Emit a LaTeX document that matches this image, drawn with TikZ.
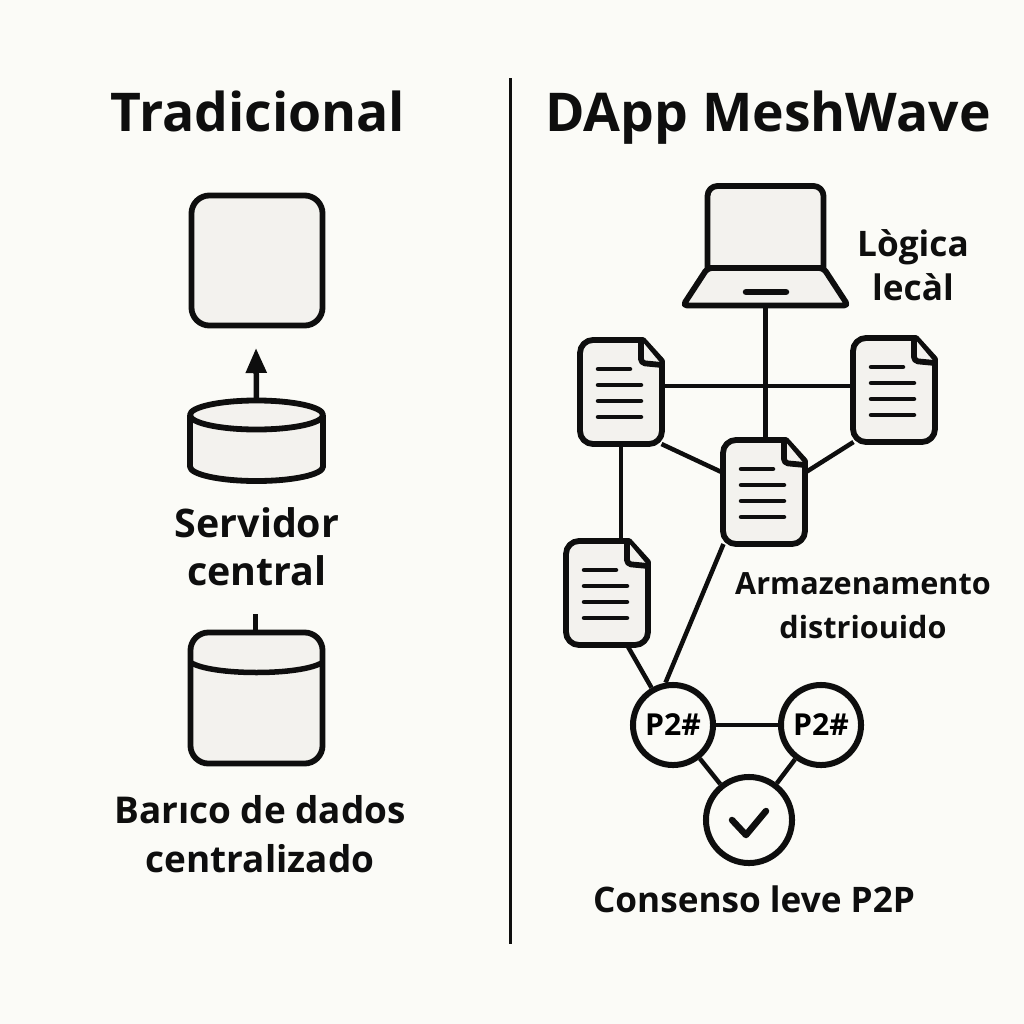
\documentclass[tikz,border=0pt]{standalone}
\usepackage{fontspec}
\setmainfont{Open Sans}
\usepackage{tikz}
\usetikzlibrary{arrows.meta}
\definecolor{paperbg}{HTML}{FBFBF7}
\definecolor{iconfill}{HTML}{F3F2EE}
\definecolor{inkline}{HTML}{0E0E0E}
\tikzset{
  iconline/.style  = {draw=inkline, line width=0.058cm, fill=iconfill, line join=round},
  linkline/.style  = {draw=inkline, line width=0.045cm},
  docline/.style   = {draw=inkline, line width=0.045cm, line cap=round},
  docspot/.style   = {minimum width=0.81cm, minimum height=1.04cm, inner sep=0pt, outer sep=0pt},
  peernode/.style  = {circle, draw=inkline, line width=0.06cm, fill=paperbg, inner sep=0pt,
                      minimum size=0.80cm, font=\fontsize{8.6}{11}\selectfont\bfseries},
  uparrow/.style   = {-{Triangle[length=0.25cm,width=0.2cm]}, draw=inkline, line width=0.055cm},
  titletext/.style = {font=\fontsize{15.2}{20}\selectfont\bfseries, text=inkline, anchor=base},
  labeltext/.style = {font=\fontsize{10.2}{13.6}\selectfont\bfseries, text=inkline, align=center},
  smalltext/.style = {font=\fontsize{8.7}{12.6}\selectfont\bfseries, text=inkline, align=center}
}
\begin{document}
\begin{tikzpicture}[x=0.01cm,y=-0.01cm]
  \fill[paperbg] (0,0) rectangle (1024,1024);
  \useasboundingbox (0,0) rectangle (1024,1024);

  % divider
  \coordinate (dividertop) at (510,78);
  \coordinate (dividerend) at (510,944);
  \draw[inkline, line width=0.03cm] (dividertop) -- (dividerend);

  % titles
  \node[titletext] (tradtitle) at (258,131) {Tradicional};
  \node[titletext] (dapptitle) at (768,131) {DApp MeshWave};

  % left column
  \node[iconline, rounded corners=0.18cm, minimum width=1.31cm, minimum height=1.30cm] (appbox) at (257,260.5) {};
  \coordinate (arrowtip) at (256,348);
  \node[minimum width=1.33cm, minimum height=0.81cm, inner sep=0pt, outer sep=0pt] (server) at (256.5,440.5) {};
  \draw[uparrow] (server.north) -- (arrowtip);
  \draw[iconline] (190,415) -- (190,466.5) arc[start angle=180, end angle=360, x radius=0.665cm, y radius=0.145cm] -- (323,415);
  \draw[iconline] (256.5,415) ellipse[x radius=0.665cm, y radius=0.145cm];
  \node[labeltext, font=\fontsize{11.2}{13.6}\selectfont\bfseries] (serverlabel) at (257,547) {Servidor\\central};

  \coordinate (stub) at (255,614);
  \node[iconline, rounded corners=0.18cm, minimum width=1.32cm, minimum height=1.31cm] (bank) at (256.5,698) {};
  \draw[linkline, line width=0.05cm] (stub) -- (stub |- bank.north);
  \draw[inkline, line width=0.055cm] (190,662) .. controls (210,676) and (303,676) .. (323,662);
  \node[labeltext, font=\fontsize{10.5}{13.9}\selectfont\bfseries] (banklabel) at (260,834) {Barıco de dados\\centralizado};

  % laptop
  \node[minimum width=1.67cm, minimum height=0.38cm, inner sep=0pt, outer sep=0pt] (lapbase) at (765.5,287) {};
  \draw[iconline] (707.5,268) -- (707.5,196) arc[start angle=180, end angle=90, radius=0.1cm] -- (813.5,186) arc[start angle=90, end angle=0, radius=0.1cm] -- (823.5,268) -- cycle;
  \draw[iconline, rounded corners=0.04cm] (707.5,268) -- (823.5,268) -- (848,305.5) -- (683,305.5) -- cycle;
  \draw[inkline, line width=0.065cm, line cap=round] (746,292) -- (786,292);
  \node[labeltext, font=\fontsize{10}{12.4}\selectfont\bfseries] (logiclabel) at (913,265) {Lògica\\lecàl};

  % documents
  \foreach \nm/\px/\py in {doca/621/392, docb/894/390, docc/764/492, docd/607/593}
    \node[docspot] (\nm) at (\px,\py) {};
  \draw[linkline] (doca.east |- 0,386) -- (docb.west |- 0,386);
  \draw[linkline] (lapbase.south) -- (docc.north -| lapbase.south);
  \draw[linkline] (doca.south east) -- ([yshift=0.19cm]docc.west);
  \draw[linkline] (docb.south west) -- ([yshift=0.19cm]docc.east);
  \draw[linkline] (doca.south) -- (doca.south |- docd.north);
  \foreach \px/\py in {621/392, 894/390, 764/492, 607/593} {
    \begin{scope}[shift={(\px,\py)}]
      \draw[iconline] (-28,-52) -- (22,-52) -- (41,-31) -- (41,39) arc[start angle=0, end angle=-90, radius=0.13cm] -- (-28,52) arc[start angle=270, end angle=180, radius=0.13cm] -- (-41,-39) arc[start angle=180, end angle=90, radius=0.13cm] -- cycle;
      \draw[iconline, rounded corners=0.04cm] (20,-52) -- (20,-29) -- (41,-27);
      \draw[docline] (-23,-23) -- (9,-23);
      \foreach \ly in {-7,9,25}
        \draw[docline] (-23,\ly) -- (20,\ly);
    \end{scope}
  }
  \node[smalltext] (storelabel) at (863,606) {Armazenamento\\distriouido};

  % peers
  \node[peernode] (peera) at (673,725) {P2\#};
  \node[peernode] (peerb) at (821,725) {P2\#};
  \node[peernode, minimum size=0.86cm] (consensus) at (749,820) {};
  \draw[linkline] (docc.south west) -- (peera.100);
  \draw[linkline] ([xshift=0.2cm]docd.south) -- (peera.120);
  \draw[linkline] (peera) -- (peerb);
  \draw[linkline] (peera) -- (consensus);
  \draw[linkline] (peerb) -- (consensus);
  \draw[inkline, line width=0.065cm, line cap=round, line join=round] (732,820) -- (746,835) -- (766,811);
  \node[labeltext, font=\fontsize{10}{13.6}\selectfont\bfseries] (consensuslabel) at (754,899) {Consenso leve P2P};
\end{tikzpicture}
\end{document}
